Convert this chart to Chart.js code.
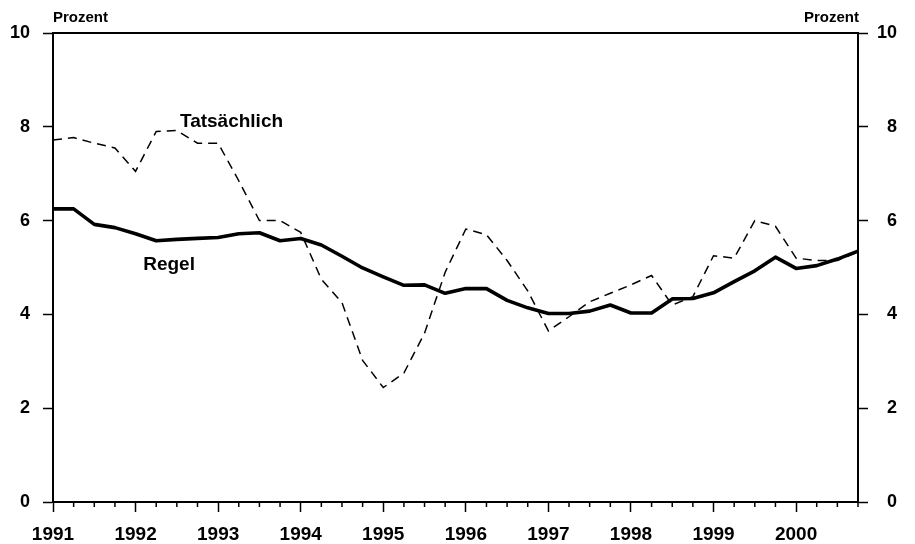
<!DOCTYPE html>
<html>
<head>
<meta charset="utf-8">
<script src="https://cdn.jsdelivr.net/npm/chart.js@4.4.1/dist/chart.umd.min.js"></script>
<style>
  html, body { margin: 0; padding: 0; background: #fff; }
  #wrap { width: 915px; height: 544px; position: relative; }
</style>
</head>
<body>
<div id="wrap"><canvas id="c" width="915" height="544"></canvas></div>
<script>
// Quarterly categories 1991 Q1 .. 2000 Q4
const quarters = [
  '1991 Q1','1991 Q2','1991 Q3','1991 Q4',
  '1992 Q1','1992 Q2','1992 Q3','1992 Q4',
  '1993 Q1','1993 Q2','1993 Q3','1993 Q4',
  '1994 Q1','1994 Q2','1994 Q3','1994 Q4',
  '1995 Q1','1995 Q2','1995 Q3','1995 Q4',
  '1996 Q1','1996 Q2','1996 Q3','1996 Q4',
  '1997 Q1','1997 Q2','1997 Q3','1997 Q4',
  '1998 Q1','1998 Q2','1998 Q3','1998 Q4',
  '1999 Q1','1999 Q2','1999 Q3','1999 Q4',
  '2000 Q1','2000 Q2','2000 Q3','2000 Q4'
];

// Regel (rule-based rate), percent
const regel = [
  6.25, 6.25, 5.92, 5.85,
  5.72, 5.57, 5.60, 5.62,
  5.64, 5.72, 5.74, 5.57,
  5.62, 5.48, 5.24, 4.99,
  4.80, 4.62, 4.63, 4.45,
  4.55, 4.55, 4.30, 4.14,
  4.02, 4.02, 4.07, 4.20,
  4.03, 4.03, 4.33, 4.34,
  4.46, 4.70, 4.93, 5.22,
  4.98, 5.04, 5.18, 5.35
];

// Tatsächlich (actual rate), percent
const tatsaechlich = [
  7.72, 7.77, 7.65, 7.55,
  7.05, 7.90, 7.92, 7.65,
  7.65, 6.85, 6.00, 6.00,
  5.75, 4.75, 4.25, 3.02,
  2.44, 2.75, 3.60, 4.90,
  5.82, 5.70, 5.15, 4.50,
  3.65, 3.95, 4.27, 4.45,
  4.63, 4.83, 4.20, 4.38,
  5.25, 5.20, 6.00, 5.88,
  5.20, 5.15, 5.15, 5.33
];

const yTicks = [0, 2, 4, 6, 8, 10];
const unitLabel = 'Prozent';
const seriesNames = ['Tatsächlich', 'Regel'];

const FONT = '"Liberation Sans", Arial, Helvetica, sans-serif';

const decorPlugin = {
  id: 'decor',
  afterDraw(chart) {
    const ctx = chart.ctx;
    const a = chart.chartArea;
    const xs = chart.scales.x;
    const ys = chart.scales.y;
    ctx.save();
    // top frame line
    ctx.strokeStyle = '#000';
    ctx.lineWidth = 2;
    ctx.beginPath();
    ctx.moveTo(a.left, a.top);
    ctx.lineTo(a.right, a.top);
    ctx.stroke();
    // minor (quarter) tick marks
    ctx.lineWidth = 1.5;
    quarters.forEach((q, i) => {
      if (i % 4 === 0) return;
      const px = xs.getPixelForValue(i);
      ctx.beginPath();
      ctx.moveTo(px, a.bottom);
      ctx.lineTo(px, a.bottom + 5);
      ctx.stroke();
    });
    // unit labels
    ctx.fillStyle = '#000';
    ctx.font = 'bold 15px ' + FONT;
    ctx.textBaseline = 'alphabetic';
    ctx.textAlign = 'left';
    ctx.fillText(unitLabel, a.left, 22);
    ctx.textAlign = 'right';
    ctx.fillText(unitLabel, a.right + 1, 22);
    // series labels
    ctx.font = 'bold 19px ' + FONT;
    ctx.textAlign = 'left';
    ctx.fillText(seriesNames[0], xs.getPixelForValue(6.15), ys.getPixelForValue(8.0));
    ctx.fillText(seriesNames[1], xs.getPixelForValue(4.37), ys.getPixelForValue(4.94));
    ctx.restore();
  }
};

new Chart(document.getElementById('c'), {
  type: 'line',
  data: {
    labels: quarters,
    datasets: [
      {
        label: seriesNames[0],
        data: tatsaechlich,
        borderColor: '#000',
        borderWidth: 1.5,
        borderDash: [9, 6],
        pointRadius: 0,
        tension: 0,
        fill: false,
        yAxisID: 'y'
      },
      {
        label: seriesNames[1],
        data: regel,
        borderColor: '#000',
        borderWidth: 3.6,
        pointRadius: 0,
        tension: 0,
        fill: false,
        borderJoinStyle: 'round',
        yAxisID: 'y'
      }
    ]
  },
  options: {
    responsive: false,
    animation: false,
    devicePixelRatio: 1,
    layout: { padding: { top: 33, right: 18, left: 0, bottom: 0 } },
    plugins: {
      legend: { display: false },
      tooltip: { enabled: false },
      title: { display: false }
    },
    scales: {
      x: {
        type: 'category',
        offset: false,
        border: { display: true, color: '#000', width: 2 },
        grid: {
          drawOnChartArea: false,
          drawTicks: true,
          tickLength: 10,
          tickWidth: 1.5,
          tickColor: (c) => (c.index % 4 === 0 ? '#000' : 'rgba(0,0,0,0)')
        },
        ticks: {
          autoSkip: false,
          maxRotation: 0,
          minRotation: 0,
          padding: 11,
          color: '#000',
          font: { family: FONT, size: 19, weight: 'bold' },
          callback: function (val, idx) {
            const lab = quarters[idx];
            return lab.endsWith('Q1') ? lab.slice(0, 4) : '';
          }
        },
        afterFit: (s) => { s.height = 42; }
      },
      y: {
        position: 'left',
        min: 0,
        max: 10,
        border: { display: true, color: '#000', width: 2 },
        grid: {
          drawOnChartArea: false,
          drawTicks: true,
          tickLength: 10,
          tickWidth: 1.5,
          tickColor: '#000'
        },
        afterBuildTicks: (s) => { s.ticks = yTicks.map(v => ({ value: v })); },
        ticks: {
          padding: 13,
          color: '#000',
          font: { family: FONT, size: 18, weight: 'bold' }
        },
        afterFit: (s) => { s.width = 53; }
      },
      y2: {
        position: 'right',
        min: 0,
        max: 10,
        border: { display: true, color: '#000', width: 2 },
        grid: {
          drawOnChartArea: false,
          drawTicks: true,
          tickLength: 10,
          tickWidth: 1.5,
          tickColor: '#000'
        },
        afterBuildTicks: (s) => { s.ticks = yTicks.map(v => ({ value: v })); },
        ticks: {
          crossAlign: 'far',
          padding: 4,
          color: '#000',
          font: { family: FONT, size: 18, weight: 'bold' }
        },
        afterFit: (s) => { s.width = 39; }
      }
    }
  },
  plugins: [decorPlugin]
});
</script>
</body>
</html>
